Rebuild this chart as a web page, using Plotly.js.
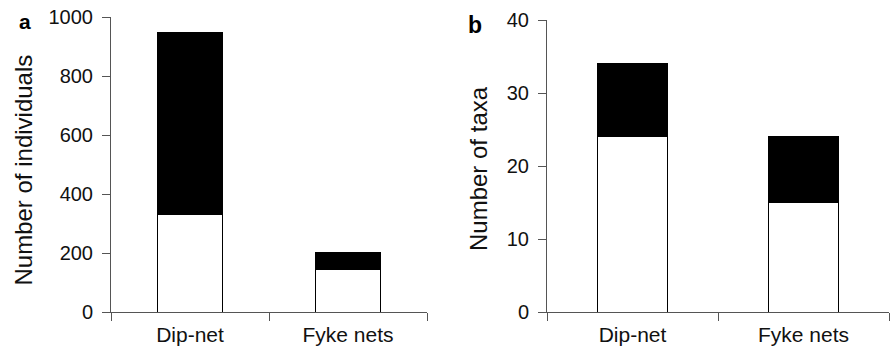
<!DOCTYPE html>
<html>
<head>
<meta charset="utf-8">
<script src="https://cdn.plot.ly/plotly-3.0.1.min.js"></script>
<style>html,body{margin:0;padding:0;background:#fff;}#chart{width:891px;height:349px;}</style>
</head>
<body>
<div id="chart"></div>
<script>
const categories = ["Dip-net", "Fyke nets"];
// Panel a: number of individuals
const individualsLower = [332, 145];
const individualsUpper = [617, 56];
// Panel b: number of taxa
const taxaLower = [24, 15];
const taxaUpper = [10, 9];
const yTicksA = [0, 200, 400, 600, 800, 1000];
const yTicksB = [0, 10, 20, 30, 40];
const yTitleA = "Number of individuals";
const yTitleB = "Number of taxa";

const font = "Liberation Sans, Arial, sans-serif";
const barStyle = (fill) => ({color: fill, line: {color: "#000", width: 1}});

const traces = [
  {type: "bar", x: categories, y: individualsLower, xaxis: "x", yaxis: "y", marker: barStyle("#fff"), width: 0.41},
  {type: "bar", x: categories, y: individualsUpper, xaxis: "x", yaxis: "y", marker: barStyle("#000"), width: 0.41},
  {type: "bar", x: categories, y: taxaLower, xaxis: "x2", yaxis: "y2", marker: barStyle("#fff"), width: 0.41},
  {type: "bar", x: categories, y: taxaUpper, xaxis: "x2", yaxis: "y2", marker: barStyle("#000"), width: 0.41}
];

const xCommon = {
  type: "category", range: [-0.5, 1.5], showline: true, linecolor: "#555", linewidth: 1,
  ticks: "outside", tickson: "boundaries", ticklen: 8, tickcolor: "#555",
  showgrid: false, zeroline: false, fixedrange: true, ticklabelstandoff: 4,
  tickfont: {family: font, size: 21, color: "#111"}
};
const yCommon = {
  showline: true, linecolor: "#555", linewidth: 1, ticks: "outside", ticklen: 8, tickcolor: "#555",
  showgrid: false, zeroline: false, tickmode: "array",
  tickfont: {family: font, size: 20, color: "#111"}, ticklabelstandoff: 5
};

const layout = {
  width: 891, height: 349,
  margin: {l: 0, r: 0, t: 0, b: 0},
  paper_bgcolor: "#fff", plot_bgcolor: "#fff",
  barmode: "stack", showlegend: false,
  xaxis: Object.assign({}, xCommon, {domain: [111/891, 427/891], anchor: "y"}),
  xaxis2: Object.assign({}, xCommon, {domain: [547/891, 889/891], anchor: "y2"}),
  yaxis: Object.assign({}, yCommon, {domain: [1 - 312/349, 1 - 17/349], anchor: "x", range: [0, 1000], tickvals: yTicksA}),
  yaxis2: Object.assign({}, yCommon, {domain: [1 - 312/349, 1 - 20/349], anchor: "x2", range: [0, 40], tickvals: yTicksB}),
  annotations: [
    {text: yTitleA, textangle: -90, xref: "paper", yref: "paper", x: 23/891, y: 1 - 170.5/349, xanchor: "center", yanchor: "middle", showarrow: false, font: {family: font, size: 24, color: "#111"}},
    {text: yTitleB, textangle: -90, xref: "paper", yref: "paper", x: 479/891, y: 1 - 169/349, xanchor: "center", yanchor: "middle", showarrow: false, font: {family: font, size: 24, color: "#111"}},
    {text: "<b>a</b>", xref: "paper", yref: "paper", x: 17/891, y: 1 - 8/349, xanchor: "left", yanchor: "top", showarrow: false, font: {family: font, size: 21, color: "#000"}},
    {text: "<b>b</b>", xref: "paper", yref: "paper", x: 466/891, y: 1 - 10/349, xanchor: "left", yanchor: "top", showarrow: false, font: {family: font, size: 23, color: "#000"}}
  ]
};

Plotly.newPlot("chart", traces, layout, {staticPlot: true, displayModeBar: false});
</script>
</body>
</html>
